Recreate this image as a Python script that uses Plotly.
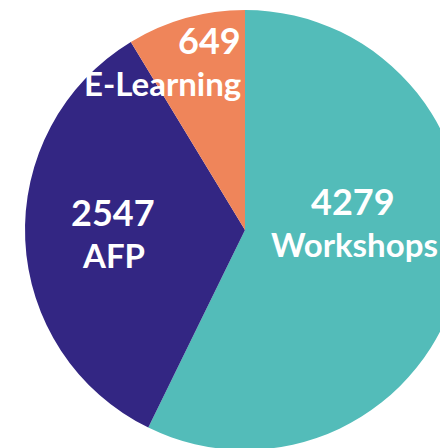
import plotly.graph_objects as go

# Data
categories = ["Workshops", "AFP", "E-Learning"]
values = [4279, 2547, 649]
colors = ["#53BCB9", "#332683", "#EF855A"]

# Figure is larger than the window so the pie is cropped like the reference
W, H = 480, 470
OFF = 0  # body margin removed by post_script


def px(xp, yp):
    return (xp - OFF) / W, 1 - (yp - OFF) / H


cx, cy, r = 245, 230, 220
x0, y1 = px(cx - r, cy - r)
x1, y0 = px(cx + r, cy + r)

fig = go.Figure(
    go.Pie(
        labels=categories,
        values=values,
        marker=dict(colors=colors, line=dict(width=0)),
        sort=False,
        direction="clockwise",
        rotation=0,
        textinfo="none",
        hoverinfo="label+value",
        showlegend=False,
        domain=dict(x=[x0, x1], y=[y0, y1]),
    )
)

# label placement (page pixels): (number center, label center, anchor)
label_pos = {
    "Workshops": ((353, 201), (354, 244), "center"),
    "AFP": ((113, 212), (113, 255), "center"),
    "E-Learning": ((243, 40), (243, 83), "right"),
}

font_family = "Lato, 'Open Sans', sans-serif"
for cat, val in zip(categories, values):
    (nx, ny), (lx, ly), anc = label_pos[cat]
    ax, ay = px(nx, ny)
    fig.add_annotation(
        x=ax, y=ay, xref="paper", yref="paper", text=str(val),
        showarrow=False, xanchor=anc, yanchor="middle",
        font=dict(family=font_family, size=36, color="white", weight="bold"),
    )
    bx, by = px(lx, ly)
    fig.add_annotation(
        x=bx, y=by, xref="paper", yref="paper", text=cat,
        showarrow=False, xanchor=anc, yanchor="middle",
        font=dict(family=font_family, size=33, color="white", weight="bold"),
    )

fig.update_layout(
    width=W, height=H,
    margin=dict(l=0, r=0, t=0, b=0),
    paper_bgcolor="white",
    plot_bgcolor="white",
)

fig.write_html(
    "out.html",
    config={"displayModeBar": False},
    post_script="document.body.style.margin='0';document.body.style.overflow='hidden';",
)
